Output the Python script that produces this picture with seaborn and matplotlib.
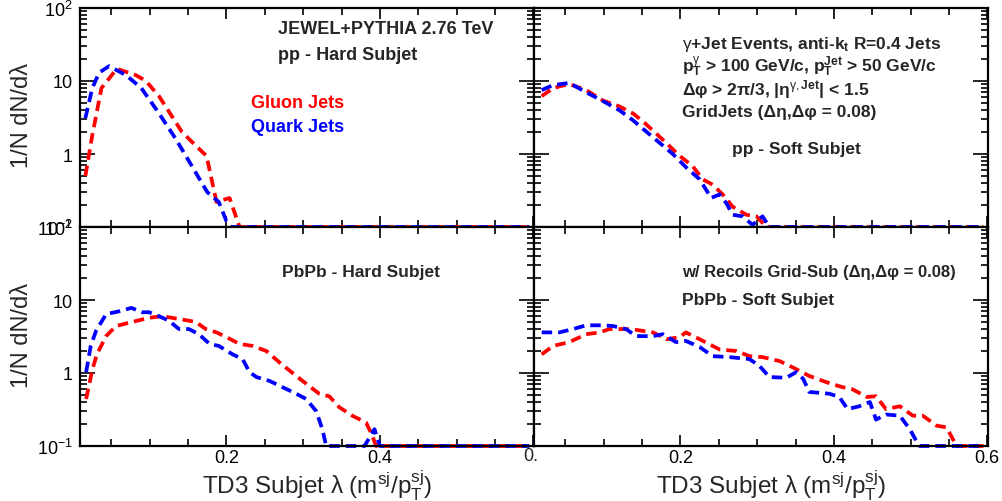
import numpy as np
import pandas as pd
import matplotlib
matplotlib.use("Agg")
import matplotlib.pyplot as plt
from matplotlib.ticker import FixedLocator, FixedFormatter, LogLocator, MultipleLocator, NullFormatter
import seaborn as sns

# ---------------- data ----------------
# pp - Hard Subjet
pp_hard_gluon_x = [0.016, 0.025, 0.037, 0.057, 0.082, 0.095, 0.112, 0.125, 0.142, 0.16, 0.174, 0.187, 0.204, 0.217, 0.225, 0.595]
pp_hard_gluon_y = [0.5, 1.8, 8.0, 14.7, 12.0, 10.0, 6.2, 3.8, 2.0, 1.3, 0.94, 0.22, 0.25, 0.1, 0, 0]
pp_hard_quark_x = [0.016, 0.025, 0.034, 0.047, 0.069, 0.089, 0.112, 0.134, 0.155, 0.175, 0.19, 0.2, 0.206, 0.595]
pp_hard_quark_y = [3.1, 8.0, 13.0, 16.0, 12.0, 8.0, 3.6, 1.6, 0.68, 0.3, 0.22, 0.12, 0, 0]

# pp - Soft Subjet
pp_soft_gluon_x = [0.019, 0.034, 0.055, 0.077, 0.099, 0.12, 0.138, 0.151, 0.164, 0.182, 0.199, 0.216, 0.229, 0.242, 0.255, 0.268, 0.286, 0.299, 0.312, 0.32, 0.595]
pp_soft_gluon_y = [6.2, 8.0, 9.1, 7.5, 5.4, 4.5, 3.6, 2.8, 2.1, 1.4, 0.94, 0.68, 0.45, 0.38, 0.28, 0.19, 0.147, 0.14, 0.1, 0, 0]
pp_soft_quark_x = [0.019, 0.034, 0.055, 0.077, 0.099, 0.12, 0.138, 0.164, 0.19, 0.207, 0.225, 0.24, 0.251, 0.26, 0.268, 0.281, 0.294, 0.307, 0.316, 0.595]
pp_soft_quark_y = [7.5, 8.8, 9.4, 7.0, 5.3, 4.0, 2.9, 1.7, 1.0, 0.66, 0.45, 0.25, 0.28, 0.21, 0.147, 0.14, 0.107, 0.14, 0, 0]

# PbPb - Hard Subjet
pbpb_hard_gluon_x = [0.017, 0.025, 0.031, 0.043, 0.056, 0.077, 0.099, 0.116, 0.138, 0.16, 0.173, 0.187, 0.2, 0.217, 0.234, 0.252, 0.269, 0.291, 0.308, 0.321, 0.334, 0.347, 0.364, 0.382, 0.39, 0.395, 0.595]
pbpb_hard_gluon_y = [0.44, 1.1, 1.8, 3.2, 4.4, 5.0, 5.7, 6.0, 5.5, 5.0, 4.0, 3.6, 3.1, 2.5, 2.35, 2.0, 1.4, 0.91, 0.66, 0.52, 0.48, 0.34, 0.26, 0.21, 0.14, 0, 0]
pbpb_hard_quark_x = [0.017, 0.023, 0.03, 0.043, 0.06, 0.076, 0.09, 0.099, 0.112, 0.125, 0.138, 0.151, 0.164, 0.178, 0.19, 0.208, 0.221, 0.23, 0.239, 0.256, 0.273, 0.291, 0.304, 0.317, 0.325, 0.33, 0.38, 0.393, 0.4, 0.595]
pbpb_hard_quark_y = [1.03, 2.35, 3.8, 6.4, 7.0, 7.8, 6.8, 6.8, 6.0, 5.2, 4.0, 4.0, 3.4, 2.5, 2.35, 1.8, 1.55, 1.03, 0.88, 0.78, 0.64, 0.52, 0.44, 0.3, 0.17, 0, 0, 0.17, 0, 0]

# PbPb - Soft Subjet
pbpb_soft_gluon_x = [0.019, 0.034, 0.055, 0.077, 0.095, 0.107, 0.129, 0.142, 0.164, 0.182, 0.199, 0.207, 0.225, 0.251, 0.273, 0.29, 0.307, 0.329, 0.346, 0.368, 0.39, 0.411, 0.424, 0.443, 0.455, 0.468, 0.486, 0.503, 0.516, 0.534, 0.547, 0.555, 0.56, 0.595]
pbpb_soft_gluon_y = [1.8, 2.35, 2.65, 3.4, 3.6, 4.0, 4.0, 3.9, 3.6, 2.9, 3.1, 3.6, 2.9, 2.1, 2.0, 1.7, 1.65, 1.46, 1.2, 0.91, 0.75, 0.64, 0.6, 0.47, 0.48, 0.32, 0.35, 0.26, 0.26, 0.19, 0.18, 0.125, 0, 0]
pbpb_soft_quark_x = [0.019, 0.042, 0.06, 0.077, 0.099, 0.112, 0.129, 0.142, 0.164, 0.177, 0.194, 0.207, 0.225, 0.242, 0.264, 0.29, 0.303, 0.316, 0.338, 0.351, 0.36, 0.368, 0.394, 0.407, 0.418, 0.433, 0.447, 0.455, 0.468, 0.486, 0.499, 0.509, 0.512, 0.595]
pbpb_soft_quark_y = [3.6, 3.6, 4.0, 4.5, 4.5, 4.4, 4.0, 3.2, 3.2, 3.4, 2.65, 2.75, 2.27, 1.7, 1.65, 1.55, 1.25, 0.88, 0.86, 1.03, 0.83, 0.55, 0.52, 0.47, 0.32, 0.35, 0.4, 0.23, 0.27, 0.26, 0.17, 0.11, 0, 0]

y_ticks = [0.1, 1, 10, 100]
y_tick_labels = [r"$10^{-1}$", "1", "10", r"$10^{2}$"]
x_ticks = [0.2, 0.4, 0.6]
x_tick_labels_left = ["0.2", "0.4", ""]
x_tick_labels_right = ["0.2", "0.4", "0.6"]

# ---------------- style ----------------
sns.set_theme(style="ticks")
plt.rcParams["font.family"] = ["Liberation Sans", "DejaVu Sans"]
plt.rcParams["mathtext.fontset"] = "custom"
plt.rcParams["mathtext.rm"] = "Liberation Sans"
plt.rcParams["mathtext.it"] = "Liberation Sans:italic"
plt.rcParams["mathtext.bf"] = "Liberation Sans:bold"
plt.rcParams["mathtext.default"] = "rm"

W, H = 1003, 502
fig = plt.figure(figsize=(W / 100, H / 100), dpi=100)
L, R, T, B = 80 / W, 988 / W, 1 - 9 / H, 1 - 447 / H
pw = (R - L) / 2
ph = (T - B) / 2
axes = {}
for r in range(2):
    for c in range(2):
        axes[(r, c)] = fig.add_axes([L + c * pw, B + (1 - r) * ph, pw, ph])

panels = {
    (0, 0): (pp_hard_gluon_x, pp_hard_gluon_y, pp_hard_quark_x, pp_hard_quark_y),
    (0, 1): (pp_soft_gluon_x, pp_soft_gluon_y, pp_soft_quark_x, pp_soft_quark_y),
    (1, 0): (pbpb_hard_gluon_x, pbpb_hard_gluon_y, pbpb_hard_quark_x, pbpb_hard_quark_y),
    (1, 1): (pbpb_soft_gluon_x, pbpb_soft_gluon_y, pbpb_soft_quark_x, pbpb_soft_quark_y),
}

ymin = 0.1
for key, (gx, gy, qx, qy) in panels.items():
    ax = axes[key]
    ax.set_yscale("log")
    for xs, ys, col in ((gx, gy, "#ff0000"), (qx, qy, "#0000ff")):
        df = pd.DataFrame({"x": xs, "y": np.maximum(np.asarray(ys, float), ymin)})
        sns.lineplot(data=df, x="x", y="y", ax=ax, color=col, linewidth=2.7,
                     estimator=None, sort=False, dashes=False)
        ax.lines[-1].set_dashes((2.8, 1.6))
        ax.lines[-1].set_clip_on(False)
    ax.set_xlim(0.009, 0.601)
    ax.set_ylim(0.1, 100)
    ax.set_xlabel("")
    ax.set_ylabel("")
    ax.yaxis.set_major_locator(FixedLocator(y_ticks))
    ax.yaxis.set_minor_locator(LogLocator(base=10, subs=np.arange(2, 10)))
    ax.yaxis.set_minor_formatter(NullFormatter())
    ax.xaxis.set_major_locator(FixedLocator(x_ticks))
    ax.xaxis.set_minor_locator(MultipleLocator(0.05))
    ax.tick_params(which="both", direction="in", top=True, right=True, width=1.2, color="black",
                   labelsize=13, labelcolor="black")
    ax.tick_params(axis="y", which="major", length=11, pad=5)
    ax.tick_params(axis="y", which="minor", length=5)
    ax.tick_params(axis="x", which="major", length=8, pad=2)
    ax.tick_params(axis="x", which="minor", length=5)
    for s in ax.spines.values():
        s.set_linewidth(1.6)
        s.set_color("black")
    r, c = key
    if c == 0:
        ax.yaxis.set_major_formatter(FixedFormatter(y_tick_labels))
    else:
        ax.set_yticklabels([])
    if r == 0:
        ax.set_xticklabels([])
    else:
        ax.xaxis.set_major_formatter(FixedFormatter(x_tick_labels_left if c == 0 else x_tick_labels_right))

def ft(x, y, s, **kw):
    kw.setdefault("fontsize", 12.5)
    kw.setdefault("fontweight", "bold")
    fig.text(x / W, 1 - y / H, s, ha="left", va="center", **kw)

# top-left
ft(278, 30, "JEWEL+PYTHIA 2.76 TeV", fontsize=13)
ft(278, 55, "pp - Hard Subjet", fontsize=13)
ft(251, 103, "Gluon Jets", color="#ff0000", fontsize=13)
ft(251, 127, "Quark Jets", color="#0000ff", fontsize=13)
# top-right
ft(682, 44, r"$\gamma$+Jet Events, anti-k$_{\mathbf{t}}$ R=0.4 Jets")
ft(682, 67, r"p$_{\mathbf{T}}^{\gamma}$ > 100 GeV/c, p$_{\mathbf{T}}^{\mathbf{Jet}}$ > 50 GeV/c")
ft(682, 90, r"Δφ > 2π/3, |η$^{\gamma,\mathbf{Jet}}$| < 1.5")
ft(682, 113, r"GridJets (Δη,Δφ = 0.08)")
ft(732, 150, "pp - Soft Subjet")
# bottom-left
ft(282, 273, "PbPb - Hard Subjet")
# bottom-right
ft(682, 273, r"w/ Recoils Grid-Sub (Δη,Δφ = 0.08)", fontsize=12)
ft(682, 300, "PbPb - Soft Subjet")

# axis titles
fig.text(22 / W, 1 - 115 / H, "1/N dN/dλ", rotation=90, ha="center", va="center", fontsize=17)
fig.text(22 / W, 1 - 335 / H, "1/N dN/dλ", rotation=90, ha="center", va="center", fontsize=17)
xl = r"TD3 Subjet λ (m$^{\mathrm{sj}}$/p$_{\mathrm{T}}^{\mathrm{sj}}$)"
fig.text(432 / W, 1 - 486 / H, xl, ha="right", va="center", fontsize=17.5)
fig.text(886 / W, 1 - 486 / H, xl, ha="right", va="center", fontsize=17.5)
fig.text(531 / W, 1 - 457 / H, "0.", ha="center", va="center", fontsize=13)

fig.savefig("out.png", dpi=100, facecolor="white")
